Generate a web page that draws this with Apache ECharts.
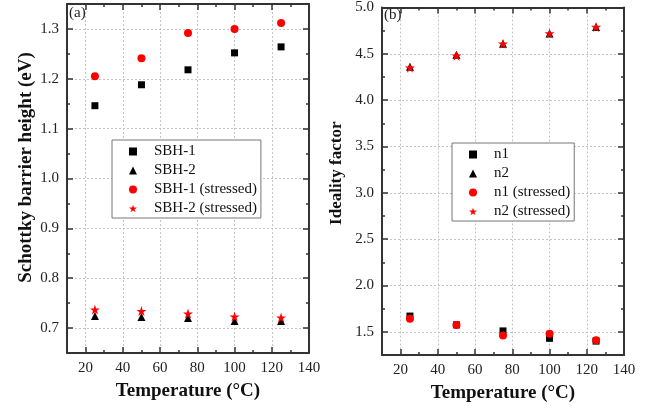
<!DOCTYPE html>
<html>
<head>
<meta charset="utf-8">
<script src="https://cdn.jsdelivr.net/npm/echarts@6/dist/echarts.min.js"></script>
<style>
html, body { margin: 0; padding: 0; background: #fff; }
#chart { width: 660px; height: 408px; }
</style>
</head>
<body>
<div id="chart"></div>
<script>
// data
var temps = [25, 50, 75, 100, 125];
var sbh1 = [1.146, 1.188, 1.218, 1.252, 1.264];
var sbh2 = [0.724, 0.722, 0.720, 0.714, 0.714];
var sbh1Stressed = [1.205, 1.241, 1.292, 1.300, 1.312];
var sbh2Stressed = [0.737, 0.734, 0.729, 0.723, 0.721];
var n1 = [1.67, 1.575, 1.51, 1.43, 1.40];
var n2 = [4.36, 4.49, 4.61, 4.72, 4.79];
var n1Stressed = [1.64, 1.575, 1.46, 1.48, 1.41];
var n2Stressed = [4.35, 4.48, 4.61, 4.72, 4.79];

// tick values
var xMajor = [20, 40, 60, 80, 100, 120, 140];
var xMinor = [30, 50, 70, 90, 110, 130];
var sbhMajor = [0.7, 0.8, 0.9, 1.0, 1.1, 1.2, 1.3];
var sbhMinor = [0.75, 0.85, 0.95, 1.05, 1.15, 1.25];
var nMajor = [1.5, 2.0, 2.5, 3.0, 3.5, 4.0, 4.5, 5.0];
var nMinor = [1.75, 2.25, 2.75, 3.25, 3.75, 4.25, 4.75];

var serif = 'Liberation Serif';
var axisColor = '#333';
var star = 'path://M50,2L61.8,38.2L99.9,38.2L69.1,60.6L80.9,96.9L50,74.5L19.1,96.9L30.9,60.6L0.1,38.2L38.2,38.2Z';

function pairs(ys) {
    return temps.map(function (t, i) { return [t, ys[i]]; });
}

// one axis on one side; main ones carry labels and grid lines
function axis(g, pos, min, max, ticks, len, main, extra) {
    var a = {
        type: 'value', gridIndex: g, position: pos, min: min, max: max,
        axisLine: { show: len > 4, onZero: false, lineStyle: { color: axisColor, width: 2 } },
        axisTick: { inside: true, length: len, customValues: ticks, lineStyle: { color: axisColor, width: 1.5 } },
        axisLabel: { show: main, customValues: ticks, fontFamily: serif, fontSize: 15, color: '#222', margin: 8,
            formatter: function (v) { return pos === 'bottom' ? String(v) : v.toFixed(1); } },
        splitLine: { show: main, lineStyle: { type: [2, 2], color: '#c4c4c4', width: 1 } }
    };
    for (var k in extra) a[k] = extra[k];
    return a;
}

function nameStyle(size, pad) {
    return { fontFamily: serif, fontWeight: 'bold', fontSize: size, color: '#111', padding: pad };
}

var xAxes = [], yAxes = [];
[0, 1].forEach(function (g) {
    xAxes.push(axis(g, 'bottom', 10, 140, xMajor, 6, true, {
        name: 'Temperature (°C)', nameLocation: 'middle', nameGap: 29, nameTextStyle: nameStyle(19, 0)
    }));
    xAxes.push(axis(g, 'bottom', 10, 140, xMinor, 3, false));
    xAxes.push(axis(g, 'top', 10, 140, xMajor, 6, false));
    xAxes.push(axis(g, 'top', 10, 140, xMinor, 3, false));
});
yAxes.push(axis(0, 'left', 0.65, 1.35, sbhMajor, 6, true, {
    name: 'Schottky barrier height (eV)', nameLocation: 'middle', nameGap: 31,
    nameTextStyle: nameStyle(19, [0, 0, 0, 22])
}));
yAxes.push(axis(0, 'left', 0.65, 1.35, sbhMinor, 3, false));
yAxes.push(axis(0, 'right', 0.65, 1.35, sbhMajor, 6, false));
yAxes.push(axis(0, 'right', 0.65, 1.35, sbhMinor, 3, false));
yAxes.push(axis(1, 'left', 1.25, 5.0, nMajor, 6, true, {
    name: 'Ideality factor', nameLocation: 'middle', nameGap: 37,
    nameTextStyle: nameStyle(17, [0, 0, 0, 16])
}));
yAxes.push(axis(1, 'left', 1.25, 5.0, nMinor, 3, false));
yAxes.push(axis(1, 'right', 1.25, 5.0, nMajor, 6, false));
yAxes.push(axis(1, 'right', 1.25, 5.0, nMinor, 3, false));

function scatter(name, ys, g, symbol, size, color) {
    return {
        name: name, type: 'scatter', xAxisIndex: g * 4, yAxisIndex: g * 4,
        symbol: symbol, symbolSize: size, data: pairs(ys),
        itemStyle: { color: color, opacity: 1 }
    };
}

function legend(names, left, top) {
    return {
        data: names, orient: 'vertical', align: 'left', left: left, top: top,
        itemWidth: 8, itemHeight: 8, itemGap: 4,
        padding: [4, 4, 2, 17],
        borderColor: '#777', borderWidth: 1, backgroundColor: '#fff',
        textStyle: { fontFamily: serif, fontSize: 15, color: '#111', padding: [0, 0, 0, 12] }
    };
}

var chart = echarts.init(document.getElementById('chart'));
chart.setOption({
    animation: false,
    backgroundColor: '#fff',
    title: [
        { text: '(a)', left: 69, top: 6, padding: 0, textStyle: { fontFamily: serif, fontSize: 15, fontWeight: 'normal', color: '#222' } },
        { text: '(b)', left: 384, top: 8, padding: 0, textStyle: { fontFamily: serif, fontSize: 15, fontWeight: 'normal', color: '#222' } }
    ],
    grid: [
        { left: 67, top: 4, width: 242, height: 349 },
        { left: 382, top: 6, width: 242, height: 349 }
    ],
    xAxis: xAxes,
    yAxis: yAxes,
    legend: [
        legend(['SBH-1', 'SBH-2', 'SBH-1 (stressed)', 'SBH-2 (stressed)'], 112, 140),
        legend(['n1', 'n2', 'n1 (stressed)', 'n2 (stressed)'], 452, 143)
    ],
    series: [
        scatter('SBH-1', sbh1, 0, 'rect', 7, '#000'),
        scatter('SBH-2', sbh2, 0, 'triangle', 8, '#000'),
        scatter('SBH-1 (stressed)', sbh1Stressed, 0, 'circle', 8, '#f00'),
        scatter('SBH-2 (stressed)', sbh2Stressed, 0, star, 10, '#f00'),
        scatter('n1', n1, 1, 'rect', 7, '#000'),
        scatter('n2', n2, 1, 'triangle', 8, '#000'),
        scatter('n1 (stressed)', n1Stressed, 1, 'circle', 8, '#f00'),
        scatter('n2 (stressed)', n2Stressed, 1, star, 10, '#f00')
    ]
});
</script>
</body>
</html>
